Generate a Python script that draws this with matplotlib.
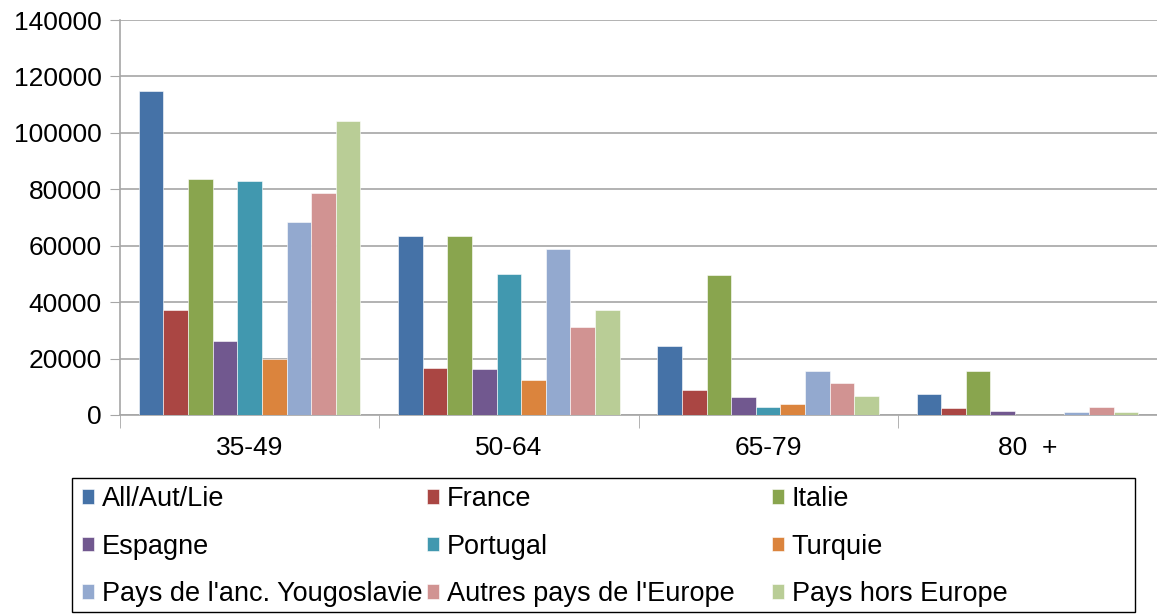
import matplotlib.pyplot as plt
import matplotlib.patches as mpatches
import numpy as np

plt.rcParams['font.family'] = ['Liberation Sans', 'DejaVu Sans']

# age groups and series
categories = ["35-49", "50-64", "65-79", "80  +"]
series_names = ["All/Aut/Lie", "France", "Italie", "Espagne", "Portugal", "Turquie",
                "Pays de l'anc. Yougoslavie", "Autres pays de l'Europe", "Pays hors Europe"]
all_aut_lie = [114700, 63300, 24300, 7500]
france = [37300, 16800, 8800, 2500]
italie = [83700, 63300, 49600, 15700]
espagne = [26400, 16400, 6400, 1400]
portugal = [82800, 50000, 2900, 0]
turquie = [19900, 12300, 3800, 0]
yougoslavie = [68300, 59000, 15700, 900]
autres_europe = [78700, 31300, 11400, 2900]
hors_europe = [104200, 37200, 6900, 1000]

colors = ["#4572A7", "#AA4643", "#89A54E", "#71588F", "#4198AF",
          "#DB843D", "#93A9CF", "#D19392", "#B9CD96"]

data = [all_aut_lie, france, italie, espagne, portugal, turquie,
        yougoslavie, autres_europe, hors_europe]

W, H = 1157, 616
fig = plt.figure(figsize=(W / 100, H / 100), dpi=100)
ax = fig.add_axes([120 / W, 1 - 415 / H, 1 - 120 / W, (415 - 20) / H])

x = np.arange(len(categories))
n = len(data)
w = 0.855 / n
handles = []
for i, vals in enumerate(data):
    b = ax.bar(x - 0.4275 + w * (i + 0.5), vals, width=w, color=colors[i],
               edgecolor="white", linewidth=0.4, label=series_names[i], zorder=3)
    handles.append(b)

ax.set_xlim(-0.5, 3.5)
ax.set_ylim(0, 140000)
ax.set_yticks(np.arange(0, 140001, 20000))
ax.set_yticklabels([str(v) for v in range(0, 140001, 20000)], fontsize=19)
ax.yaxis.grid(True, color="#A6A6A6", linewidth=1.2, zorder=0)
ax.tick_params(axis="y", length=7, color="#A6A6A6", pad=6)

# category labels in middle, ticks between categories
ax.set_xticks(x)
ax.set_xticklabels(categories, fontsize=19)
ax.tick_params(axis="x", length=0, pad=15)
ax.set_xticks(np.arange(-0.5, 3.6, 1.0), minor=True)
ax.tick_params(axis="x", which="minor", length=9, color="#A6A6A6", direction="out")

for s in ["top", "right"]:
    ax.spines[s].set_visible(False)
ax.spines["left"].set_color("#A6A6A6")
ax.spines["bottom"].set_color("#A6A6A6")
ax.spines["left"].set_linewidth(1.2)
ax.spines["bottom"].set_linewidth(1.2)

# legend frame drawn separately, one legend per column
fig.patches.append(mpatches.Rectangle((72 / W, 1 - 612 / H), (1135 - 72) / W, (612 - 478) / H,
                                      transform=fig.transFigure, fill=False,
                                      edgecolor="black", linewidth=1.0))
col_x = [82, 427, 772]
for c in range(3):
    idx = [c, c + 3, c + 6]
    fig.legend([handles[i] for i in idx], [series_names[i] for i in idx],
               ncol=1, loc="upper left", bbox_to_anchor=(col_x[c] / W, 1 - 486 / H),
               fontsize=19.5, frameon=False,
               handlelength=0.45, handleheight=0.45, handletextpad=0.28,
               borderaxespad=0, borderpad=0, labelspacing=0.8)

fig.savefig("out.png", dpi=100)
